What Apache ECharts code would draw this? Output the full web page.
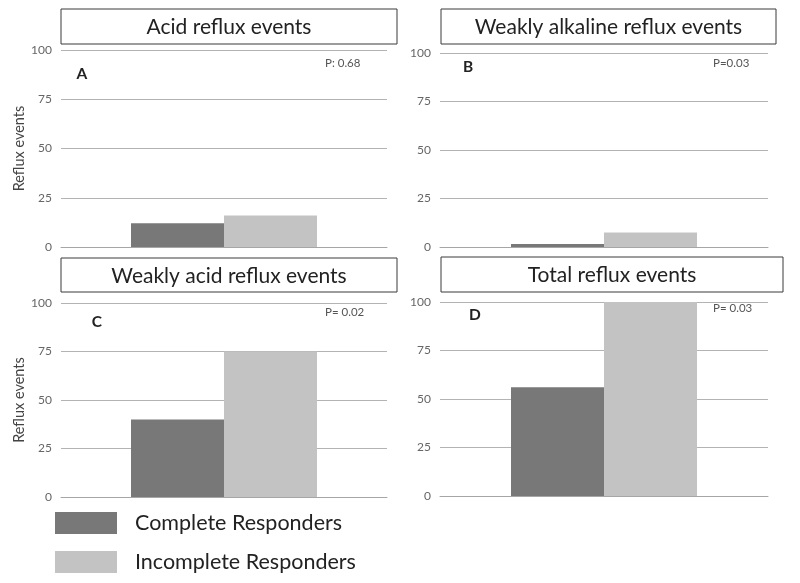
<!DOCTYPE html>
<html>
<head>
<meta charset="utf-8">
<script src="https://cdn.jsdelivr.net/npm/echarts@6/dist/echarts.min.js"></script>
<style>html,body{margin:0;padding:0;background:#fff}#c{width:800px;height:583px}</style>
</head>
<body>
<div id="c"></div>
<script>
const panelTitles = ['Acid reflux events', 'Weakly alkaline reflux events', 'Weakly acid reflux events', 'Total reflux events'];
const panelLetters = ['A', 'B', 'C', 'D'];
const pValues = ['P: 0.68', 'P=0.03', 'P= 0.02', 'P= 0.03'];
const seriesNames = ['Complete Responders', 'Incomplete Responders'];
const completeValues = [12, 1.5, 40, 56];
const incompleteValues = [16, 7.5, 75, 100];
const yTicks = [0, 25, 50, 75, 100];

const FONT = 'Lato, "Open Sans", sans-serif';
const colors = ['#787878', '#c3c3c3'];

// layout (pixels)
const grids = [
  {left: 61, top: 50, width: 326, height: 197},
  {left: 440, top: 53, width: 328, height: 194},
  {left: 61, top: 303, width: 326, height: 194},
  {left: 440, top: 302, width: 328, height: 194}
];
const titleBoxes = [
  {x: 61, y: 9, w: 336, h: 35},
  {x: 441, y: 9, w: 335, h: 35},
  {x: 61, y: 258, w: 336, h: 34},
  {x: 441, y: 257, w: 342, h: 35}
];
const letterPos = [[82, 74], [468, 67], [97, 322], [475, 315]];
const pPos = [[325, 63], [713, 63], [325, 312], [713, 308]];

const option = {
  animation: false,
  backgroundColor: '#fff',
  color: colors,
  legend: {
    orient: 'vertical', left: 50, top: 507,
    itemWidth: 62, itemHeight: 22, itemGap: 17,
    icon: 'rect',
    data: seriesNames,
    textStyle: {fontFamily: FONT, fontSize: 21.5, color: '#222', padding: [0, 0, 0, 13]}
  },
  grid: grids.map(g => Object.assign({}, g)),
  xAxis: grids.map((g, i) => ({
    type: 'category', gridIndex: i, data: [''],
    axisLine: {show: true, lineStyle: {color: '#a6a6a6', width: 1}},
    axisTick: {show: false}, axisLabel: {show: false}
  })),
  yAxis: grids.map((g, i) => ({
    type: 'value', gridIndex: i, min: yTicks[0], max: yTicks[yTicks.length - 1], interval: 25,
    name: (i % 2 === 0) ? 'Reflux events' : '',
    nameLocation: 'middle', nameGap: 28, nameRotate: 90,
    nameTextStyle: {fontFamily: FONT, fontSize: 14.5, color: '#444'},
    axisLine: {show: false}, axisTick: {show: false},
    axisLabel: {fontFamily: FONT, fontSize: 12, color: '#666', margin: 9},
    splitLine: {lineStyle: {color: '#b3b3b3', width: 1}}
  })),
  series: [],
  graphic: []
};

for (let i = 0; i < 4; i++) {
  option.series.push({
    type: 'bar', name: seriesNames[0], xAxisIndex: i, yAxisIndex: i,
    data: [completeValues[i]], barWidth: 93, barGap: '0%', itemStyle: {color: colors[0]}
  });
  option.series.push({
    type: 'bar', name: seriesNames[1], xAxisIndex: i, yAxisIndex: i,
    data: [incompleteValues[i]], barWidth: 93, barGap: '0%', itemStyle: {color: colors[1]}
  });
  const b = titleBoxes[i];
  option.graphic.push({
    type: 'rect', shape: {x: b.x, y: b.y, width: b.w, height: b.h},
    style: {fill: '#fff', stroke: '#3a3a3a', lineWidth: 1}, z: 10
  });
  option.graphic.push({
    type: 'text', x: b.x + b.w / 2, y: b.y + b.h / 2 + 1,
    style: {text: panelTitles[i], fontFamily: FONT, fontSize: 21, fill: '#222', align: 'center', verticalAlign: 'middle'}, z: 11
  });
  option.graphic.push({
    type: 'text', x: letterPos[i][0], y: letterPos[i][1],
    style: {text: panelLetters[i], fontFamily: FONT, fontSize: 15.5, fontWeight: 'bold', fill: '#222', align: 'center', verticalAlign: 'middle'}, z: 11
  });
  option.graphic.push({
    type: 'text', x: pPos[i][0], y: pPos[i][1],
    style: {text: pValues[i], fontFamily: FONT, fontSize: 11.5, fill: '#555', align: 'left', verticalAlign: 'middle'}, z: 11
  });
}

const chart = echarts.init(document.getElementById('c'), null, {renderer: 'canvas'});
chart.setOption(option);
</script>
</body>
</html>
